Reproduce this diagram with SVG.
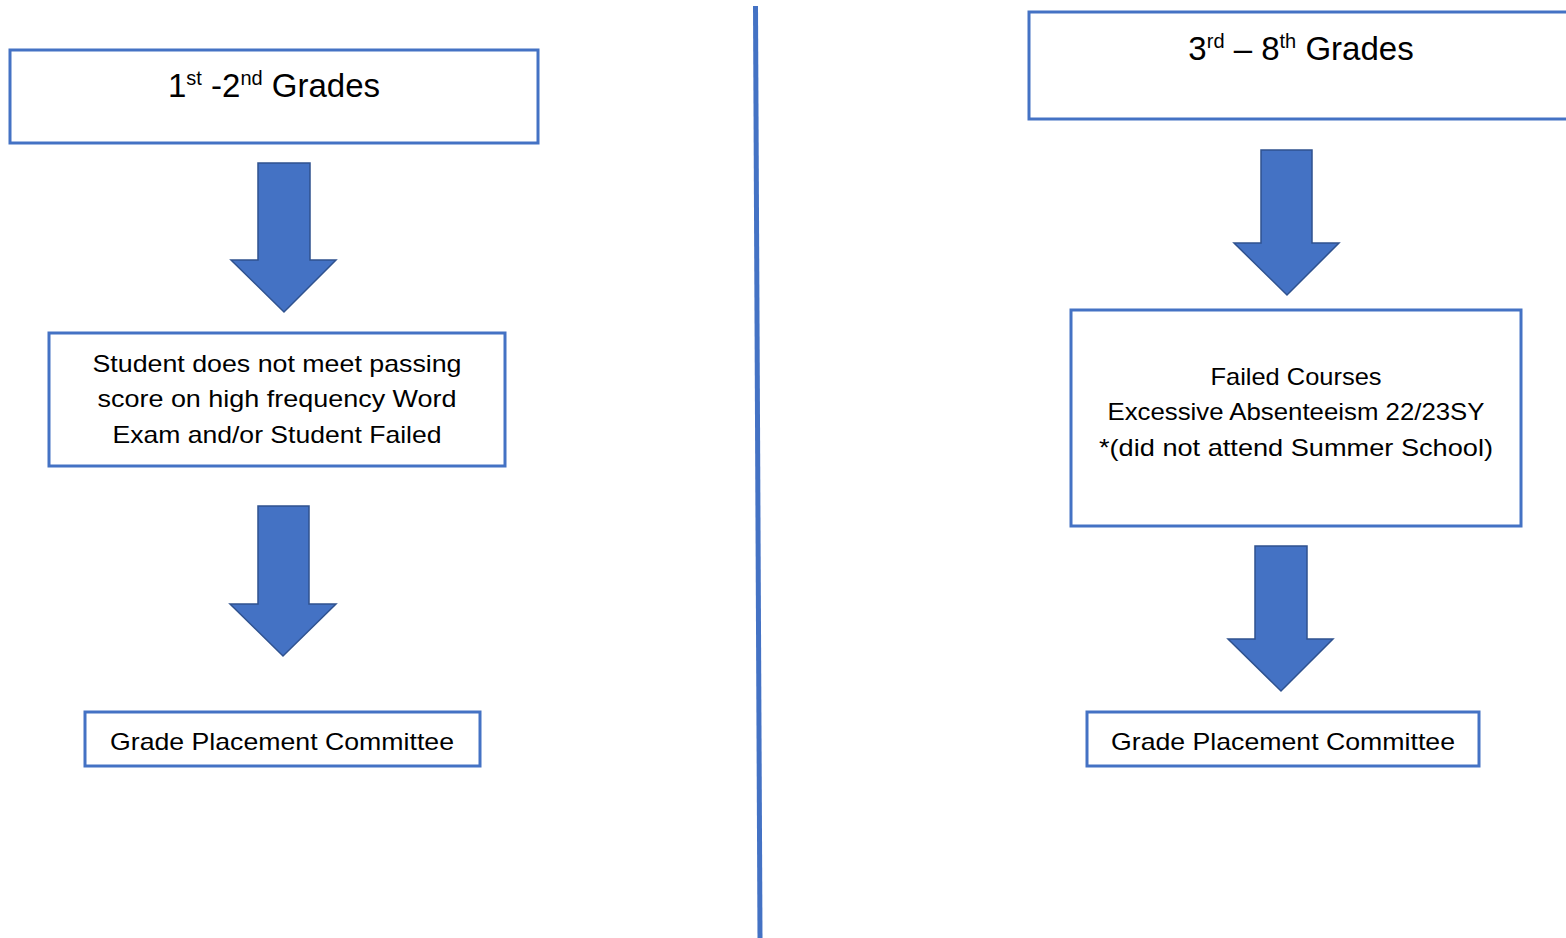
<svg xmlns="http://www.w3.org/2000/svg" width="1566" height="938" viewBox="0 0 1566 938">
<style>
.box{fill:#fff;stroke:#4472C4;stroke-width:3}
.arr{fill:#4472C4;stroke:#2F528F;stroke-width:1.5}
text{font-family:"Liberation Sans",Arial,sans-serif;fill:#000;text-anchor:middle}
.t{font-size:24px}
.h{font-size:33px}
.sup{font-size:20px}
</style>
<rect width="1566" height="938" fill="#fff"/>
<g id="connectors">
<line x1="755.5" y1="6" x2="760" y2="938" stroke="#4472C4" stroke-width="5"/>
<path class="arr" d="M258,163 H310 V260 H336 L284,312 L231,260 H258 Z"/>
<path class="arr" d="M258,506 H309 V604 H336 L283,656 L230,604 H258 Z"/>
<path class="arr" d="M1261,150 H1312 V243 H1339 L1287,295 L1234,243 H1261 Z"/>
<path class="arr" d="M1255,546 H1307 V639 H1333 L1281,691 L1228,639 H1255 Z"/>
</g>
<g id="n1">
<rect class="box" x="10" y="50" width="528" height="93"/>
<text class="h" x="274" y="97">1<tspan class="sup" dy="-12">st</tspan><tspan dy="12"> -2</tspan><tspan class="sup" dy="-12">nd</tspan><tspan dy="12"> Grades</tspan></text>
</g>
<g id="n2">
<rect class="box" x="49" y="333" width="456" height="133"/>
<text class="t" x="277" y="372" textLength="369" lengthAdjust="spacingAndGlyphs">Student does not meet passing</text>
<text class="t" x="277" y="407" textLength="359" lengthAdjust="spacingAndGlyphs">score on high frequency Word</text>
<text class="t" x="277" y="443" textLength="329" lengthAdjust="spacingAndGlyphs">Exam and/or Student Failed</text>
</g>
<g id="n3">
<rect class="box" x="85" y="712" width="395" height="54"/>
<text class="t" x="282" y="750" textLength="344" lengthAdjust="spacingAndGlyphs">Grade Placement Committee</text>
</g>
<g id="n4">
<rect class="box" x="1029" y="12" width="560" height="107"/>
<text class="h" x="1301" y="60">3<tspan class="sup" dy="-12">rd</tspan><tspan dy="12"> – 8</tspan><tspan class="sup" dy="-12">th</tspan><tspan dy="12"> Grades</tspan></text>
</g>
<g id="n5">
<rect class="box" x="1071" y="310" width="450" height="216"/>
<text class="t" x="1296" y="385" textLength="171" lengthAdjust="spacingAndGlyphs">Failed Courses</text>
<text class="t" x="1296" y="420" textLength="377" lengthAdjust="spacingAndGlyphs">Excessive Absenteeism 22/23SY</text>
<text class="t" x="1296" y="456" textLength="394" lengthAdjust="spacingAndGlyphs">*(did not attend Summer School)</text>
</g>
<g id="n6">
<rect class="box" x="1087" y="712" width="392" height="54"/>
<text class="t" x="1283" y="750" textLength="344" lengthAdjust="spacingAndGlyphs">Grade Placement Committee</text>
</g>
</svg>
